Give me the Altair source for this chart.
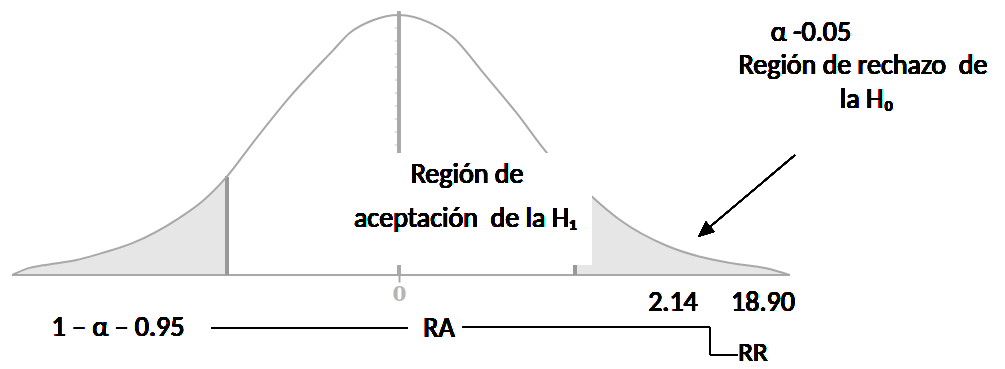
import altair as alt
import pandas as pd

# Curve (x in standard units, y in density units)
curve_z = [-3.12, -2.98, -2.87, -2.60, -2.39, -2.15, -1.77, -1.60, -1.39, -1.18, -0.88,
           -0.53, -0.40, -0.21, 0.00, 0.25, 0.44, 0.68, 0.95, 1.22, 1.42, 1.56, 1.78,
           2.16, 2.43, 2.69, 2.97, 3.15]
curve_density = [0.000, 0.011, 0.015, 0.023, 0.034, 0.049, 0.088, 0.111, 0.151, 0.203, 0.274,
                 0.346, 0.372, 0.392, 0.400, 0.388, 0.365, 0.311, 0.249, 0.182, 0.146, 0.120, 0.085,
                 0.045, 0.028, 0.018, 0.010, 0.000]
crit_left = -1.39
crit_right = 1.42
center_top = 0.405
center_ticks = [0.02, 0.04, 0.06, 0.08, 0.10, 0.12, 0.14, 0.16, 0.18, 0.20,
                0.22, 0.24, 0.26, 0.28, 0.30, 0.32, 0.34, 0.36, 0.38]

df = pd.DataFrame({"z": curve_z, "d": curve_density})
left_df = df[df["z"] <= crit_left]
right_df = df[df["z"] >= crit_right]
ticks_df = pd.DataFrame({"t": center_ticks})

FONT = "Carlito"
GRAY = "#a8a8a8"
NB = "\u00a0"

xs = alt.Scale(domain=[-3.153, 4.823], nice=False, zero=False)
ys = alt.Scale(domain=[-0.13231, 0.41077], nice=False, zero=False)

x_axis = alt.Axis(values=[0], format="d", offset=-86, domain=False, grid=False, tickSize=7,
                  tickWidth=2, tickColor=GRAY, labelFont="DejaVu Serif", labelFontWeight=900,
                  labelFontSize=20, labelColor="#b4b4b4", labelPadding=2, title="")

fill_left = alt.Chart(left_df).mark_area(color="#e6e6e6", interpolate="monotone").encode(
    x=alt.X("z:Q", scale=xs, axis=x_axis),
    y=alt.Y("d:Q", scale=ys, axis=None),
)
fill_right = alt.Chart(right_df).mark_area(color="#e6e6e6", interpolate="monotone").encode(
    x=alt.X("z:Q", scale=xs),
    y=alt.Y("d:Q", scale=ys),
)
curve = alt.Chart(df).mark_line(color=GRAY, strokeWidth=2, interpolate="monotone").encode(
    x=alt.X("z:Q", scale=xs),
    y=alt.Y("d:Q", scale=ys),
)
base = alt.Chart(df)
baseline = base.mark_rule(color=GRAY, strokeWidth=2).encode(
    x=alt.datum(curve_z[0]), x2=alt.datum(curve_z[-1]), y=alt.datum(0))
center_line = base.mark_rule(color=GRAY, strokeWidth=2.5).encode(
    x=alt.datum(0), y=alt.datum(0), y2=alt.datum(center_top))
center_tick_marks = alt.Chart(ticks_df).mark_rule(color="#c4c4c4", strokeWidth=1).encode(
    x=alt.datum(-0.035), x2=alt.datum(0), y=alt.Y("t:Q", scale=ys))
crit_l = base.mark_rule(color="#999999", strokeWidth=3).encode(
    x=alt.datum(crit_left), y=alt.datum(0), y2=alt.datum(curve_density[curve_z.index(crit_left)]))
crit_r = base.mark_rule(color="#999999", strokeWidth=3).encode(
    x=alt.datum(crit_right), y=alt.datum(0), y2=alt.datum(curve_density[curve_z.index(crit_right)]))

box = base.mark_rect(color="white").encode(
    x=alt.value(334), x2=alt.value(584), y=alt.value(145), y2=alt.value(257))


def txt(s, x, y, size=28, align="center"):
    return base.mark_text(text=s, font=FONT, fontSize=size, fontWeight="normal", color="black",
                          align=align, baseline="middle").encode(x=alt.value(x), y=alt.value(y))


def seg(x1, y1, x2, y2, w=1.2):
    return base.mark_rule(color="black", strokeWidth=w).encode(
        x=alt.value(x1), y=alt.value(y1), x2=alt.value(x2), y2=alt.value(y2))


texts = [
    txt("α -0.05", 803, 25),
    txt("Región de rechazo " + NB + "de", 855, 58),
    txt("la H₀", 859, 92),
    txt("Región de", 459, 167),
    txt("aceptación " + NB + "de la H₁", 457, 211),
    txt("2.14", 665, 295),
    txt("18.90", 755, 295),
    txt("1 – α – 0.95", 110, 320),
    txt("RA", 431, 321),
    txt("RR", 745, 345, size=27),
]
lines = [
    seg(203, 320, 400, 320),
    seg(454, 319, 702, 319),
    seg(702, 319, 702, 347),
    seg(702, 347, 730, 347),
    seg(787, 147, 697, 223),
]
arrow_head = base.mark_point(
    shape="M0,0L-0.42,1L0.42,1Z", filled=True, color="black", opacity=1,
    size=1024, angle=230, strokeWidth=0).encode(x=alt.value(690), y=alt.value(229))

chart = alt.layer(
    fill_left, fill_right, baseline, center_tick_marks, center_line, crit_l, crit_r, curve, box,
    *lines, arrow_head, *texts
).properties(
    width=989, height=353,
    padding={"left": 0, "top": 0, "right": 0, "bottom": 8},
    autosize=alt.AutoSizeParams(type="none")
).configure_view(stroke=None)

chart.save("out.html", embed_options={"renderer": "svg", "actions": False})
